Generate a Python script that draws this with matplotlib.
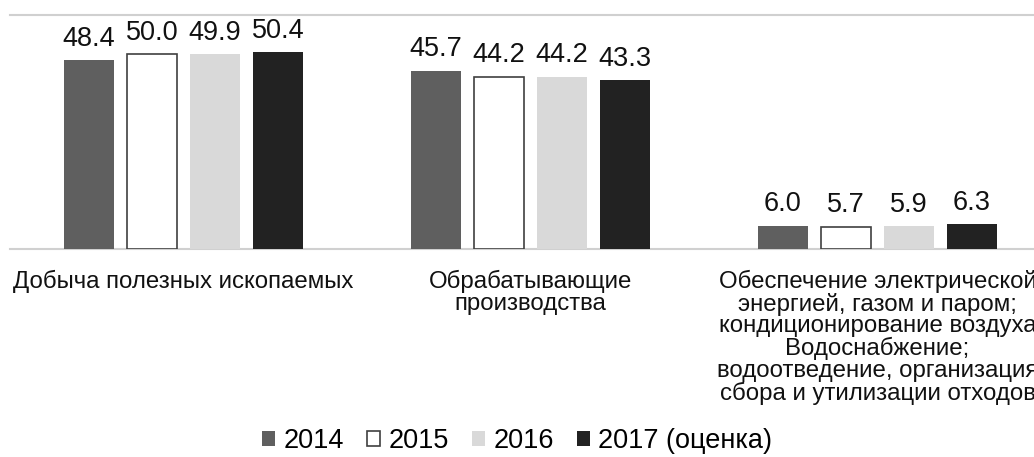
import matplotlib
matplotlib.use("Agg")
import matplotlib.pyplot as plt
from matplotlib.patches import Patch
import numpy as np

plt.rcParams['font.family'] = ['Liberation Sans', 'DejaVu Sans']

categories = [
    "Добыча полезных ископаемых",
    "Обрабатывающие\nпроизводства",
    "Обеспечение электрической\nэнергией, газом и паром;\nкондиционирование воздуха\n"
    "Водоснабжение;\nводоотведение, организация\nсбора и утилизации отходов",
]
years = ["2014", "2015", "2016", "2017 (оценка)"]
v2014 = [48.4, 45.7, 6.0]
v2015 = [50.0, 44.2, 5.7]
v2016 = [49.9, 44.2, 5.9]
v2017 = [50.4, 43.3, 6.3]
series = [v2014, v2015, v2016, v2017]

fills = ["#5f5f5f", "#ffffff", "#d9d9d9", "#222222"]
edges = ["#5f5f5f", "#404040", "#d9d9d9", "#222222"]

W, H = 1034, 457
fig = plt.figure(figsize=(W / 100, H / 100), dpi=100)
ax = fig.add_axes([10 / W, (H - 249) / H, 1041 / W, 234 / H])

x = np.arange(len(categories))
step = 0.1816
bw = 0.144
for i, vals in enumerate(series):
    pos = x + (i - 1.5) * step
    bars = ax.bar(pos, vals, bw, color=fills[i], edgecolor=edges[i],
                  linewidth=1.2 if i == 1 else 0, zorder=3)
    for b, v in zip(bars, vals):
        ax.annotate(f"{v:.1f}", (b.get_x() + b.get_width() / 2, v),
                    xytext=(0, 6), textcoords="offset points",
                    ha="center", va="bottom", fontsize=19.5, color="#111111")

ax.set_xlim(-0.5, len(categories) - 0.5)
ax.set_ylim(0, 60)
ax.set_yticks([0, 60])
ax.yaxis.grid(True, color="#d0d0d0", linewidth=1.5, zorder=0, clip_on=False)
ax.tick_params(axis="y", left=False, labelleft=False)
ax.set_xticks(x)
ax.set_xticklabels(categories, fontsize=17.3, linespacing=0.98, color="#111111")
ax.tick_params(axis="x", length=0, pad=15)
for s in ax.spines.values():
    s.set_visible(False)

handles = [Patch(facecolor=fills[i], edgecolor=edges[i], linewidth=1.2 if i == 1 else 0)
           for i in range(4)]
fig.legend(handles, years, loc="center", bbox_to_anchor=(0.5, 1 - 441 / H),
           ncol=4, frameon=False, fontsize=19.5, handlelength=0.5, handleheight=0.5,
           handletextpad=0.3, columnspacing=0.85, borderpad=0)

fig.savefig("out.png", dpi=100)
